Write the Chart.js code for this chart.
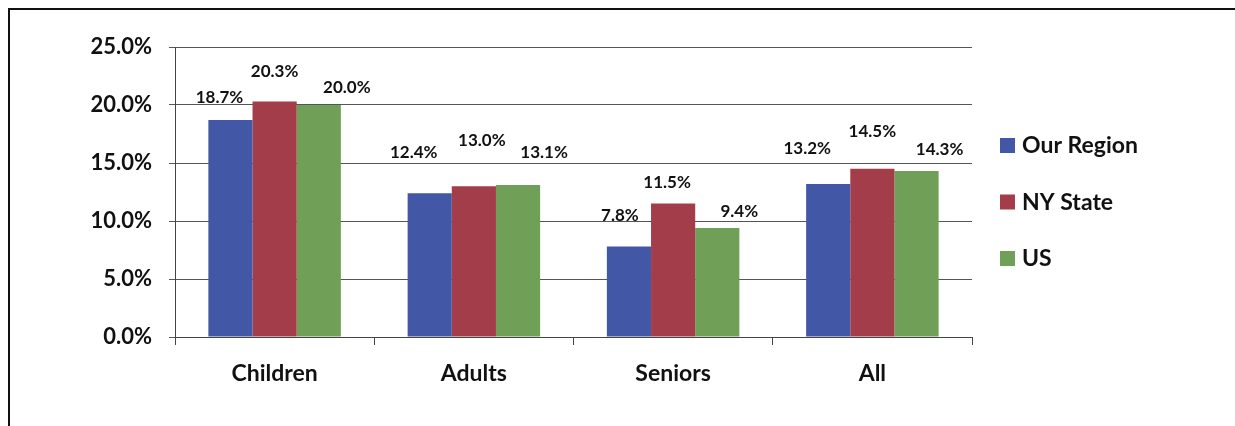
<!DOCTYPE html>
<html lang="en">
<head>
    <meta charset="UTF-8">
    <title>Poverty Rate by Age Group</title>
    <script src="https://cdn.jsdelivr.net/npm/chart.js"></script>
    <style>
        body { margin: 0; background: #fff; }
        #frame {
            position: absolute; left: 8px; top: 8px; width: 1260px; height: 440px;
            border-top: 2px solid #111; border-left: 2px solid #111;
        }
        #povertyChart { position: absolute; left: 0; top: 0; }
    </style>
</head>
<body>
    <div id="frame"></div>
    <canvas id="povertyChart" width="1235" height="426"></canvas>

    <script>
        // Werte (Prozent)
        const groups = ['Children', 'Adults', 'Seniors', 'All'];
        const ourRegion = [18.7, 12.4, 7.8, 13.2];
        const nyState = [20.3, 13.0, 11.5, 14.5];
        const usValues = [20.0, 13.1, 9.4, 14.3];
        const yTicks = [0, 5, 10, 15, 20, 25];

        const FONT = 'Lato, "Open Sans", sans-serif';

        // Versatz der Beschriftungen gegenueber der Balkenmitte (px), wie in der Vorlage
        const labelLift = [
            [23, 41, 31, 35],
            [30, 46, 21, 37],
            [17, 33, 16, 22]
        ];
        const labelShift = [
            [-11, -16, -9, -21],
            [0, 8, -6, 0],
            [28, 26, 22, 23]
        ];

        const valueLabels = {
            id: 'valueLabels',
            afterDatasetsDraw(chart) {
                const c = chart.ctx;
                c.save();
                c.font = 'bold 17px ' + FONT;
                c.fillStyle = '#111';
                c.textAlign = 'center';
                c.textBaseline = 'middle';
                chart.data.datasets.forEach((ds, i) => {
                    chart.getDatasetMeta(i).data.forEach((bar, j) => {
                        c.fillText(ds.data[j].toFixed(1) + '%', bar.x + labelShift[i][j], bar.y - labelLift[i][j]);
                    });
                });
                c.restore();
            }
        };

        const sideLegend = {
            id: 'sideLegend',
            afterDraw(chart) {
                const c = chart.ctx;
                c.save();
                c.font = 'bold 23px ' + FONT;
                c.textBaseline = 'middle';
                chart.data.datasets.forEach((ds, i) => {
                    const y = 145 + i * 56.5;
                    c.fillStyle = ds.backgroundColor;
                    c.fillRect(1000, y - 7, 15, 15);
                    c.fillStyle = '#111';
                    c.fillText(ds.label, 1022, y + 1);
                });
                c.restore();
            }
        };

        const ctx = document.getElementById('povertyChart').getContext('2d');
        const povertyChart = new Chart(ctx, {
            type: 'bar',
            data: {
                labels: groups,
                datasets: [
                    { label: 'Our Region', data: ourRegion, backgroundColor: '#4257a6' },
                    { label: 'NY State', data: nyState, backgroundColor: '#a33d49' },
                    { label: 'US', data: usValues, backgroundColor: '#70a057' }
                ]
            },
            options: {
                responsive: false,
                animation: false,
                layout: { padding: { left: 0, top: 47, right: 263, bottom: 0 } },
                datasets: {
                    bar: { categoryPercentage: 0.665, barPercentage: 1.0 }
                },
                plugins: {
                    legend: { display: false },
                    tooltip: { enabled: false }
                },
                scales: {
                    x: {
                        afterFit(scale) { scale.height = 89; },
                        grid: { offset: true, drawOnChartArea: false, tickLength: 8, color: '#444' },
                        border: { color: '#444', width: 1 },
                        ticks: { color: '#111', font: { family: FONT, size: 23, weight: 'bold' }, padding: 15 }
                    },
                    y: {
                        min: 0,
                        max: 25,
                        afterFit(scale) { scale.width = 175; },
                        afterBuildTicks(scale) { scale.ticks = yTicks.map(v => ({ value: v })); },
                        grid: { color: '#555', tickLength: 6 },
                        border: { color: '#444', width: 1 },
                        ticks: {
                            color: '#111',
                            font: { family: FONT, size: 22, weight: 'bold' },
                            padding: 17,
                            callback: v => v.toFixed(1) + '%'
                        }
                    }
                }
            },
            plugins: [valueLabels, sideLegend]
        });
    </script>
</body>
</html>
